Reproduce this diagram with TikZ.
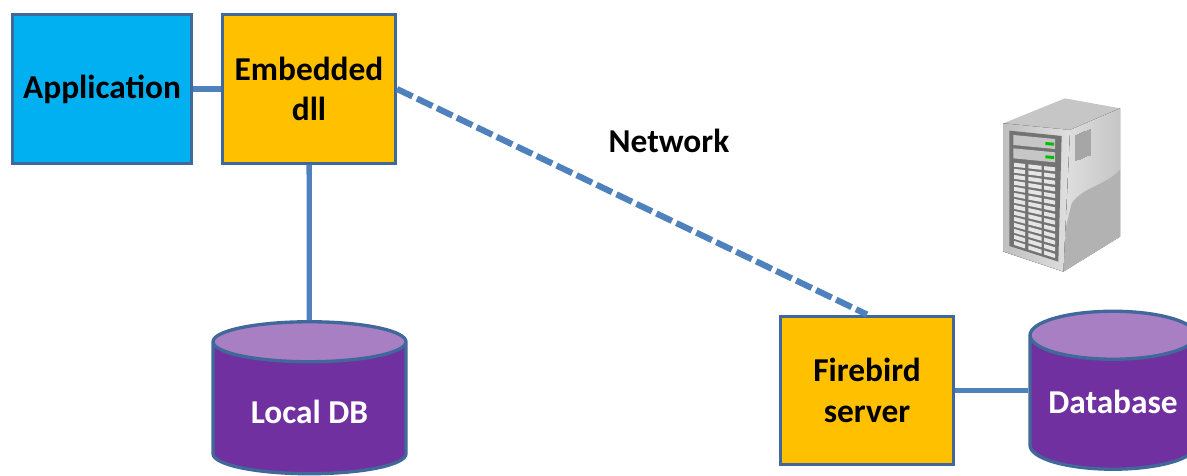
\documentclass[tikz,border=0pt]{standalone}
\usepackage{fontspec}
\setmainfont{Carlito}
\usetikzlibrary{shapes.geometric}
\definecolor{linkblue}{HTML}{4F81BD}
\definecolor{edgeblue}{HTML}{41689A}
\definecolor{appblue}{HTML}{00B0F0}
\definecolor{dllyellow}{HTML}{FFC000}
\definecolor{dbpurple}{HTML}{7030A0}
\definecolor{dbtop}{HTML}{A97FC4}
\begin{document}
\begin{tikzpicture}[
	x=0.02cm, y=-0.02cm,
	% unified looks for boxes, databases and links
	box/.style={draw=edgeblue, line width=1.7pt, minimum height=2.98cm, align=center, font=\fontsize{19}{23}\selectfont\bfseries},
	dbase/.style={shape=cylinder, shape border rotate=90, draw=edgeblue, line width=1.9pt,
		cylinder uses custom fill, cylinder body fill=dbpurple, cylinder end fill=dbtop,
		minimum height=3.04cm, text=white, font=\fontsize{19}{23}\selectfont\bfseries},
	link/.style={draw=linkblue, line width=3pt}
	]
	\clip (0,0) rectangle (1187,476);

	% ----- 1. boxes -----
	\node[box, fill=appblue, minimum width=3.58cm, text depth=2pt] (App) at (102,89) {Application};
	\node[box, fill=dllyellow, minimum width=3.46cm] (Dll) at (309,89) {Embedded\\dll};
	\node[box, fill=dllyellow, minimum width=3.46cm] (Server) at (867,390.5) {Firebird\\server};

	% ----- 2. databases -----
	\node[dbase, aspect=0.31, minimum width=3.86cm] (LocalDB) at (309.5,412) {Local DB};
	\node[dbase, aspect=0.34, minimum width=3.32cm, minimum height=3.16cm, text depth=7pt] (DB) at (1113,407.5) {Database};

	% ----- 3. links -----
	\draw[link] (App) -- (Dll);
	\draw[link] (Dll) -- (LocalDB);
	\draw[link, line width=3.5pt, dash pattern=on 9.8pt off 2.8pt] (Dll.east) -- (Server.north);
	\draw[link] (Server) -- (Server -| DB.west);

	% ----- 4. label -----
	\node[font=\fontsize{19}{23}\selectfont\bfseries] (Net) at (669,141) {Network};

	% ----- 5. server icon -----
	\begin{scope}[shift={(960,80)}, x=0.00667cm, y=-0.00667cm, line join=round]
		% top and side
		\fill[gray!45] (130,130) -- (315,55) -- (480,85) -- (330,150) -- cycle;
		\fill[left color=gray!25, right color=gray!45] (330,150) -- (480,85) -- (480,470) -- (310,575) -- cycle;
		\fill[gray!60] (335,370) .. controls (370,320) and (430,320) .. (480,270) -- (480,470) -- (310,575) -- (318,440) -- cycle;
		% front
		\fill[left color=gray!50, right color=gray!25] (130,130) -- (330,150) -- (310,575) -- (130,515) -- cycle;
		\fill[black!55] (148,152) -- (305,168) -- (295,545) -- (148,498) -- cycle;
		% vent
		\foreach \vx in {348,354,...,392}
			\draw[gray!70, line width=0.7pt] (\vx,{165-(\vx-345)*0.4}) -- (\vx,{245-(\vx-345)*0.4});
		% two drive bays
		\foreach \by in {165,205} {
			\fill[gray!45] (160,\by) -- (285,{\by+12}) -- (285,{\by+42}) -- (160,{\by+30}) -- cycle;
			\fill[green!75!black] (256,{\by+21}) -- (282,{\by+23}) -- (282,{\by+32}) -- (256,{\by+30}) -- cycle;
		}
		% disk slots
		\foreach \xa/\xb in {162/195, 205/245, 252/285}
			\foreach \row in {0,...,13} {
				\pgfmathsetmacro{\ya}{248+18*\row+(\xa-160)*(14+2*\row)/125}
				\pgfmathsetmacro{\yb}{248+18*\row+(\xb-160)*(14+2*\row)/125}
				\fill[gray!20] (\xa,\ya) -- (\xb,\yb) -- (\xb,\yb+12) -- (\xa,\ya+12) -- cycle;
			}
	\end{scope}
\end{tikzpicture}
\end{document}
